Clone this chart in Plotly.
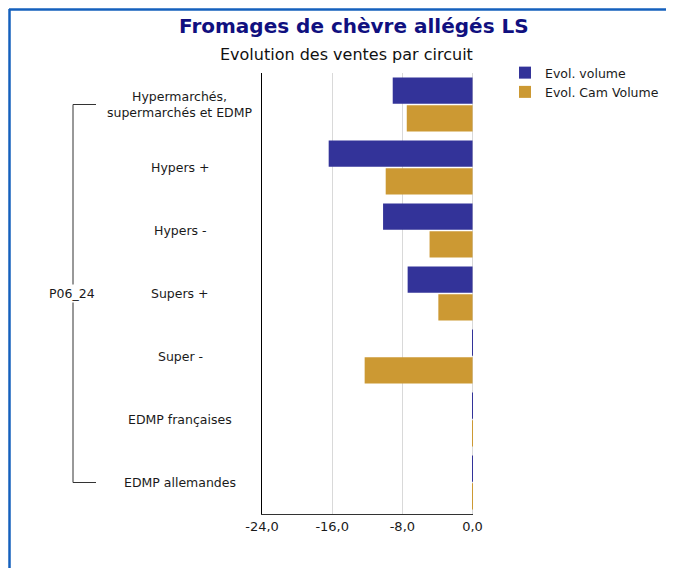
import plotly.graph_objects as go

# circuits, top to bottom
circuits = ['Hypermarchés,<br>supermarchés et EDMP', 'Hypers +', 'Hypers -', 'Supers +',
            'Super -', 'EDMP françaises', 'EDMP allemandes']
evol_volume = [-9.1, -16.4, -10.2, -7.4, 0.1, 0.1, 0.1]
evol_cam_volume = [-7.5, -9.9, -4.9, -3.9, -12.3, 0.1, 0.1]
period = 'P06_24'
x_ticks = [-24, -16, -8, 0]
x_ticktext = ['-24,0', '-16,0', '-8,0', '0,0']

# the page body adds an 8px margin, so work in screen pixels and shift back
OFF = 8
FW, FH = 674 - OFF, 568 - OFF
# plot area in screen pixels: x 262..473, y 73..514
L, R, T, B = 262 - OFF, 674 - 473, 73 - OFF, 568 - 514
W, H = FW - L - R, FH - T - B

def px(x):
    return (x - OFF - L) / W

def py(y):
    return (FH - B - (y - OFF)) / H

font = 'Tahoma, DejaVu Sans, sans-serif'

fig = go.Figure()
fig.add_trace(go.Bar(y=circuits, x=evol_volume, orientation='h', name='Evol. volume',
                     marker=dict(color='#333399', line=dict(width=0))))
fig.add_trace(go.Bar(y=circuits, x=evol_cam_volume, orientation='h', name='Evol. Cam Volume',
                     marker=dict(color='#CC9933', line=dict(width=0))))

# category labels, centred like the original
for c in circuits:
    fig.add_annotation(x=px(180), y=c, xref='paper', yref='y', text=c, showarrow=False,
                       xanchor='center', yanchor='middle', align='center',
                       font=dict(size=12.5, color='#1a1a1a', family=font))

# group bracket
fig.add_shape(type='line', xref='paper', yref='y', x0=px(73), x1=px(96),
              y0=circuits[0], y1=circuits[0], line=dict(color='#333333', width=1))
fig.add_shape(type='line', xref='paper', yref='y', x0=px(73), x1=px(73),
              y0=circuits[0], y1=circuits[-1], line=dict(color='#333333', width=1))
fig.add_shape(type='line', xref='paper', yref='y', x0=px(73), x1=px(96),
              y0=circuits[-1], y1=circuits[-1], line=dict(color='#333333', width=1))
fig.add_annotation(x=px(72), y=circuits[3], xref='paper', yref='y', text=period, showarrow=False,
                   xanchor='center', yanchor='middle', bgcolor='white',
                   font=dict(size=12.5, color='#1a1a1a', family=font))

# blue frame (top and left edges)
fig.add_shape(type='line', xref='paper', yref='paper', x0=px(9), x1=px(690), y0=py(9.5), y1=py(9.5),
              line=dict(color='#1560BD', width=2.5))
fig.add_shape(type='line', xref='paper', yref='paper', x0=px(9.5), x1=px(9.5), y0=py(9), y1=py(590),
              line=dict(color='#1560BD', width=2.5))

fig.add_annotation(x=px(354), y=py(26), xref='paper', yref='paper', showarrow=False,
                   text='<b>Fromages de chèvre allégés LS</b>', xanchor='center', yanchor='middle',
                   font=dict(size=20, color='#10107F', family=font))
fig.add_annotation(x=px(346), y=py(55), xref='paper', yref='paper', showarrow=False,
                   text='Evolution des ventes par circuit', xanchor='center', yanchor='middle',
                   font=dict(size=16, color='#111111', family=font))

fig.update_layout(
    width=FW, height=FH,
    margin=dict(l=L, r=R, t=T, b=B, autoexpand=False),
    paper_bgcolor='white', plot_bgcolor='white',
    barmode='group', bargap=0.12, bargroupgap=0.05,
    font=dict(family=font, size=13, color='#1a1a1a'),
    legend=dict(x=px(505), y=py(58), xanchor='left', yanchor='top',
                font=dict(size=12.5, family=font), itemwidth=30, tracegroupgap=2,
                bgcolor='rgba(0,0,0,0)'),
    xaxis=dict(range=[-24, 0.05], tickvals=x_ticks, ticktext=x_ticktext,
               showgrid=True, gridcolor='#D9D9D9', gridwidth=1,
               zeroline=True, zerolinecolor='#D9D9D9', zerolinewidth=1,
               showline=True, linecolor='#333333', linewidth=1,
               ticks='', tickfont=dict(size=13, family=font, color='#1a1a1a')),
    yaxis=dict(autorange='reversed', showticklabels=False, showgrid=False,
               showline=True, linecolor='#000000', linewidth=1, ticks=''),
)

fig.write_html('out.html')
